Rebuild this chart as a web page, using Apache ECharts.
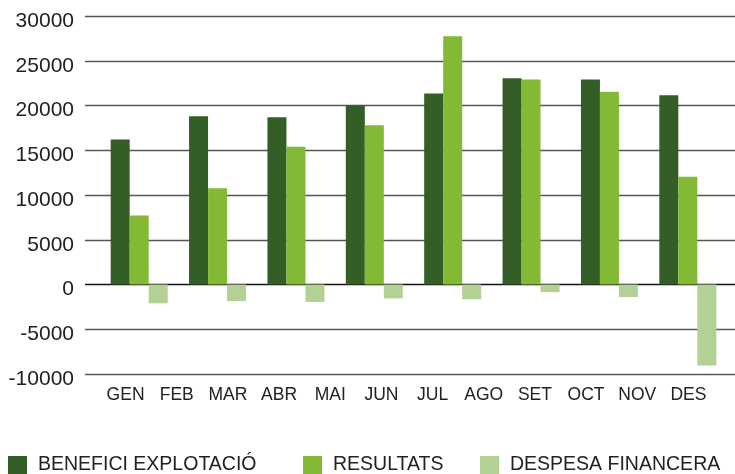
<!DOCTYPE html>
<html>
<head>
<meta charset="utf-8">
<script src="https://cdn.jsdelivr.net/npm/echarts@6/dist/echarts.min.js"></script>
<style>
html,body{margin:0;padding:0;background:#fff;}
#chart{width:735px;height:474px;}
</style>
</head>
<body>
<div id="chart"></div>
<script>
// Month tick labels shown under the axis
const monthLabels = ['GEN','FEB','MAR','ABR','MAI','JUN','JUL','AGO','SET','OCT','NOV','DES'];
// The bar groups drawn in the chart (8 groups)
const barGroups = ['1','2','3','4','5','6','7','8'];
const seriesNames = ['BENEFICI EXPLOTACIÓ','RESULTATS','DESPESA FINANCERA'];
const benefici = [16200, 18800, 18700, 20000, 21350, 23050, 22900, 21150];
const resultats = [7700, 10750, 15400, 17800, 27750, 22900, 21550, 12050];
const despesa = [-2100, -1850, -1950, -1550, -1650, -850, -1400, -9050];
const yMin = -10000, yMax = 30000, yStep = 5000;

const colors = ['#335e25', '#83b935', '#b3d095'];
const font = 'Liberation Sans, Arial, sans-serif';
const chart = echarts.init(document.getElementById('chart'), null, {renderer: 'canvas'});

const gridTop = 16, gridBottom = 100;
const yCommon = {type: 'value', min: yMin, max: yMax, interval: yStep};

const option = {
  animation: false,
  backgroundColor: '#fff',
  grid: [
    {left: 85, right: 0, top: gridTop, bottom: gridBottom},
    {left: 100, right: 8, top: gridTop, bottom: gridBottom},
    {left: 100, right: 21, top: gridTop, bottom: gridBottom}
  ],
  xAxis: [
    {gridIndex: 0, type: 'category', data: monthLabels, show: false},
    {gridIndex: 1, type: 'category', data: barGroups, show: false},
    {gridIndex: 2, type: 'category', data: monthLabels,
      axisLine: {show: false}, axisTick: {show: false},
      axisLabel: {color: '#222', fontFamily: font, fontSize: 17.5, margin: 12, interval: 0}}
  ],
  yAxis: [
    Object.assign({gridIndex: 0,
      axisLine: {show: false}, axisTick: {show: false},
      axisLabel: {
        margin: 11, verticalAlign: 'middle',
        formatter: v => '{a|' + String(v) + '}',
        rich: {a: {color: '#222', fontFamily: font, fontSize: 21, padding: [10, 0, 0, 0]}}
      },
      splitLine: {show: true, lineStyle: {color: ['#555','#555','#111','#555','#555','#555','#555','#555','#555'], width: 1.3}}
    }, yCommon),
    Object.assign({gridIndex: 1, show: false, splitLine: {show: false}}, yCommon),
    Object.assign({gridIndex: 2, show: false, splitLine: {show: false}}, yCommon)
  ],
  legend: seriesNames.map((n, i) => ({
    data: [n],
    left: [8, 303, 480][i],
    top: 455,
    padding: 0,
    icon: 'rect',
    itemWidth: 19,
    itemHeight: 18,
    selectedMode: false,
    textStyle: {color: '#222', fontFamily: font, fontSize: 19.5, padding: [2, 0, 0, 6]}
  })),
  series: [benefici, resultats, despesa].map((d, i) => ({
    name: seriesNames[i],
    type: 'bar',
    xAxisIndex: 1,
    yAxisIndex: 1,
    data: d,
    barWidth: 19,
    barGap: '0%',
    itemStyle: {color: colors[i]}
  }))
};
chart.setOption(option);
</script>
</body>
</html>
